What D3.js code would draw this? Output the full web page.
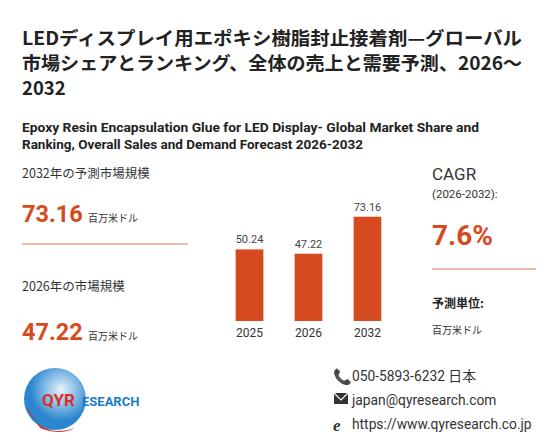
<!DOCTYPE html>
<html><head><meta charset="utf-8">
<script src="https://cdn.jsdelivr.net/npm/d3@7"></script>
<style>body{margin:0;background:#fff}svg{font-family:"Noto Sans CJK JP","Noto Sans",sans-serif}</style>
</head><body><svg id="c" width="560" height="448"></svg>
<script>
const years = ["2025","2026","2032"];
const values = [50.24, 47.22, 73.16];
const titleLines = ["LEDディスプレイ用エポキシ樹脂封止接着剤—グローバル","市場シェアとランキング、全体の売上と需要予測、2026～","2032"];
const subLines = ["Epoxy Resin Encapsulation Glue for LED Display- Global Market Share and","Ranking, Overall Sales and Demand Forecast 2026-2032"];
const svg = d3.select("#c");
const red = "#d64a20";
const titleLen = [500, 500, null];
titleLines.forEach((t,i)=>{const e=svg.append("text").attr("x",22).attr("y",45+i*25).attr("font-size",18.5).attr("font-weight","bold").attr("fill","#222").text(t); if(titleLen[i]) e.attr("textLength",titleLen[i]).attr("lengthAdjust","spacingAndGlyphs");});
const subLen = [457, 341];
subLines.forEach((t,i)=>svg.append("text").attr("x",22).attr("y",132+i*17).attr("font-size",13).attr("font-weight","bold").attr("fill","#222").attr("font-family","Roboto,sans-serif").attr("textLength",subLen[i]).attr("lengthAdjust","spacingAndGlyphs").text(t));
svg.append("text").attr("x",22).attr("y",178).attr("font-size",12.5).attr("fill","#333").text("2032年の予測市場規模");
svg.append("text").attr("x",22).attr("y",222).attr("font-size",23.5).attr("font-weight","bold").attr("fill",red).attr("font-family","Roboto,sans-serif").text(values[2].toFixed(2));
svg.append("text").attr("x",88).attr("y",222).attr("font-size",10).attr("fill","#333").text("百万米ドル");
svg.append("line").attr("x1",22).attr("x2",188).attr("y1",244).attr("y2",244).attr("stroke","#e8a090").attr("stroke-width",1.5);
svg.append("text").attr("x",22).attr("y",291).attr("font-size",12.5).attr("fill","#333").text("2026年の市場規模");
svg.append("text").attr("x",22).attr("y",340).attr("font-size",23.5).attr("font-weight","bold").attr("fill",red).attr("font-family","Roboto,sans-serif").text(values[1].toFixed(2));
svg.append("text").attr("x",88).attr("y",340).attr("font-size",10).attr("fill","#333").text("百万米ドル");
const x = d3.scaleBand().domain(years).range([215,402]).paddingInner(0.53).paddingOuter(0.35);
const y = d3.scaleLinear().domain([0,80]).range([321,207]);
svg.selectAll("rect.b").data(values).join("rect").attr("x",(d,i)=>x(years[i])).attr("width",x.bandwidth())
 .attr("y",d=>y(d)).attr("height",d=>y(0)-y(d)).attr("fill",red);
svg.selectAll("text.v").data(values).join("text").attr("x",(d,i)=>x(years[i])+x.bandwidth()/2).attr("y",d=>y(d)-6)
 .attr("text-anchor","middle").attr("font-size",11).attr("fill","#444").attr("font-family","Roboto,sans-serif").text(d=>d.toFixed(2));
svg.selectAll("text.x").data(years).join("text").attr("x",d=>x(d)+x.bandwidth()/2).attr("y",337)
 .attr("text-anchor","middle").attr("font-size",12).attr("fill","#333").attr("font-family","Roboto,sans-serif").text(d=>d);
svg.append("text").attr("x",432).attr("y",180).attr("font-size",17).attr("fill","#333").attr("font-family","Roboto,sans-serif").text("CAGR");
svg.append("text").attr("x",432).attr("y",198).attr("font-size",11.5).attr("fill","#333").attr("font-family","Roboto,sans-serif").text("(2026-2032):");
svg.append("text").attr("x",432).attr("y",245).attr("font-size",28).attr("font-weight","bold").attr("fill",red).attr("font-family","Roboto,sans-serif").text("7.6%");
svg.append("line").attr("x1",432).attr("x2",536).attr("y1",269).attr("y2",269).attr("stroke","#e8a090").attr("stroke-width",1.5);
svg.append("text").attr("x",432).attr("y",308).attr("font-size",12).attr("font-weight","bold").attr("fill","#222").text("予測単位:");
svg.append("text").attr("x",432).attr("y",334).attr("font-size",10).attr("fill","#333").text("百万米ドル");
const g = svg.append("g");
const grad = svg.append("defs").append("radialGradient").attr("id","gl").attr("cx","60%").attr("cy","35%");
grad.append("stop").attr("offset","0%").attr("stop-color","#e8f4fc");
grad.append("stop").attr("offset","100%").attr("stop-color","#2a86cf");
g.append("circle").attr("cx",55).attr("cy",399).attr("r",31).attr("fill","url(#gl)");
g.append("path").attr("d","M26,405 Q40,440 75,428 Q60,436 40,428 Z").attr("fill","#d8302a");
g.append("text").attr("x",42).attr("y",406).attr("font-size",17).attr("font-weight","bold").attr("fill","#d8302a").attr("font-family","Roboto,sans-serif").text("QYR");
g.append("text").attr("x",82).attr("y",406).attr("font-size",13).attr("font-weight","bold").attr("fill","#1a7cc8").attr("font-family","Roboto,sans-serif").text("ESEARCH");
const contacts = ["050-5893-6232 日本","japan@qyresearch.com","https://www.qyresearch.co.jp"];
contacts.forEach((t,i)=>svg.append("text").attr("x",352).attr("y",381+i*24).attr("font-size",13.8).attr("fill","#333").attr("font-family","Roboto,'Noto Sans CJK JP',sans-serif").text(t));
svg.append("text").attr("x",333).attr("y",382).attr("font-size",15).attr("fill","#333").text("📞");
svg.append("rect").attr("x",334).attr("y",393).attr("width",14).attr("height",11).attr("fill","#333");
svg.append("path").attr("d","M334,393 L341,400 L348,393").attr("stroke","#fff").attr("fill","none").attr("stroke-width",1.2);
svg.append("text").attr("x",333).attr("y",431).attr("font-size",17).attr("font-style","italic").attr("font-weight","bold").attr("fill","#333").attr("font-family","serif").text("e");
</script></body></html>
